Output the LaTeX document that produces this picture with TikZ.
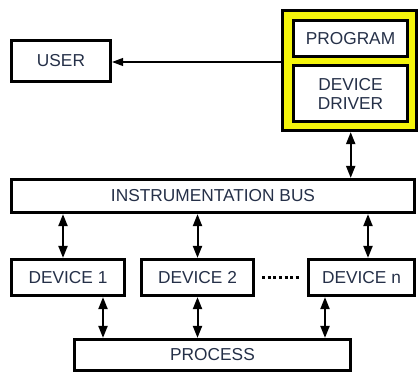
\documentclass[tikz,border=0pt]{standalone}
\usepackage{fontspec}
\setmainfont{Liberation Sans}
\usetikzlibrary{arrows.meta}
\definecolor{labelink}{HTML}{253048}
\definecolor{hostyellow}{HTML}{F4F40C}
\tikzset{
  blk/.style={draw=black, line width=3.2pt, fill=white, rectangle, inner sep=0pt,
    text=labelink, font=\fontsize{17.3}{19}\selectfont, align=center},
  biarrow/.style={line width=2pt, {Triangle[length=12pt,width=9pt]}-{Triangle[length=12pt,width=9pt]}},
  onearrow/.style={line width=1.1pt, -{Triangle[length=11pt,width=8pt]}},
  ellipsis/.style={line width=3pt, dash pattern=on 3pt off 2.6pt}
}
\begin{document}
\begin{tikzpicture}[x=1pt, y=-1pt]
  \useasboundingbox (0,0) rectangle (420,374);
  % host computer: program and device driver
  \node[blk, fill=hostyellow, minimum width=134pt, minimum height=120pt] (host) at (349.5,70.5) {};
  \node[blk, minimum width=114pt, minimum height=36pt] (program) at (350.5,38.5) {PROGRAM};
  \node[blk, minimum width=114pt, minimum height=56pt] (driver) at (350.5,93.5) {DEVICE\\DRIVER};
  \node[blk, minimum width=99pt, minimum height=41pt] (user) at (61,61) {USER};
  % bus, devices and process
  \node[blk, minimum width=403pt, minimum height=33pt] (bus) at (213,196) {INSTRUMENTATION BUS};
  \node[blk, minimum width=113pt, minimum height=36pt] (dev1) at (68,277.5) {DEVICE 1};
  \node[blk, minimum width=112pt, minimum height=36pt] (dev2) at (197.5,277.5) {DEVICE 2};
  \node[blk, minimum width=106pt, minimum height=36pt] (devn) at (361.5,277.5) {DEVICE n};
  \node[blk, minimum width=276pt, minimum height=31pt] (process) at (212.5,355) {PROCESS};
  % connectors
  \draw[onearrow] (host.west |- 0,62) -- (user.east |- 0,62);
  \draw[biarrow] ([xshift=1.2pt]host.south) -- ([xshift=1.2pt]host.south |- bus.north);
  \draw[biarrow] ([xshift=-5pt]dev1.north |- bus.south) -- ([xshift=-5pt]dev1.north);
  \draw[biarrow] (dev2.north |- bus.south) -- (dev2.north);
  \draw[biarrow] ([xshift=6.5pt]devn.north |- bus.south) -- ([xshift=6.5pt]devn.north);
  \draw[biarrow] ([xshift=35pt]dev1.south) -- ([xshift=35pt]dev1.south |- process.north);
  \draw[biarrow] (dev2.south) -- (dev2.south |- process.north);
  \draw[biarrow] ([xshift=-36.5pt]devn.south) -- ([xshift=-36.5pt]devn.south |- process.north);
  \draw[ellipsis] ([xshift=7pt,yshift=0.5pt]dev2.east) -- ([xshift=-8pt,yshift=0.5pt]devn.west);
\end{tikzpicture}
\end{document}
